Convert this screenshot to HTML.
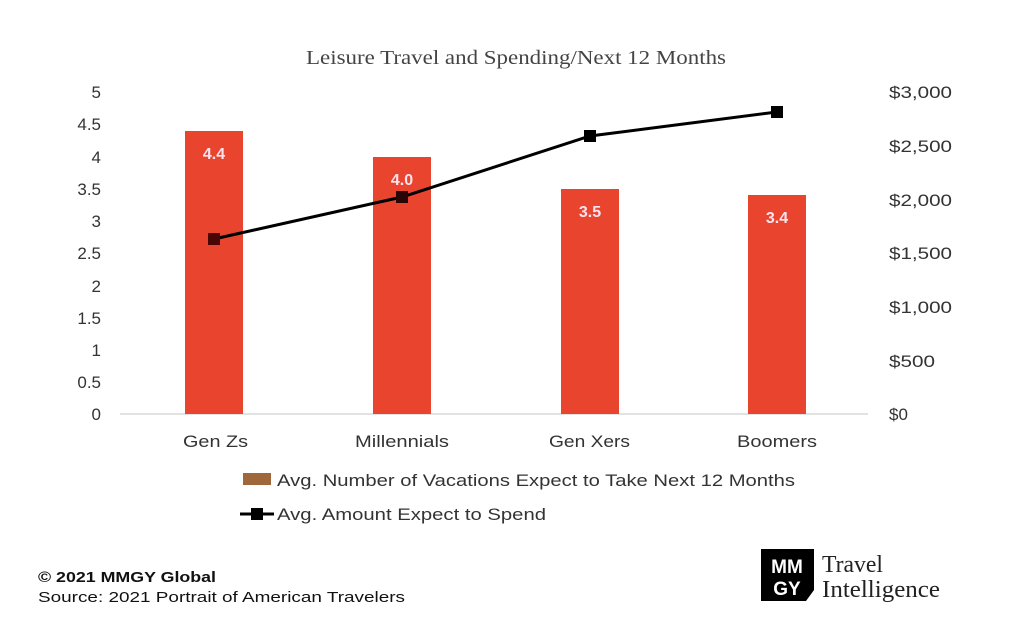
<!DOCTYPE html>
<html><head><style>
body{margin:0;background:#fff;}
svg text{font-family:"Liberation Sans",sans-serif;}
</style></head><body>
<svg width="1024" height="639" viewBox="0 0 1024 639" xmlns="http://www.w3.org/2000/svg">
<rect width="1024" height="639" fill="#fff"/>
<text x="306" y="64" textLength="420" lengthAdjust="spacingAndGlyphs" font-size="20" fill="#444" style="font-family:'Liberation Serif',serif">Leisure Travel and Spending/Next 12 Months</text>
<g font-size="17" fill="#333" text-anchor="end">
<text x="101" y="98">5</text><text x="101" y="130">4.5</text><text x="101" y="163">4</text><text x="101" y="195">3.5</text><text x="101" y="227">3</text><text x="101" y="259">2.5</text><text x="101" y="292">2</text><text x="101" y="324">1.5</text><text x="101" y="356">1</text><text x="101" y="388">0.5</text><text x="101" y="420">0</text>
</g>
<g font-size="17" fill="#333" text-anchor="start">
<text x="889" y="98" textLength="63" lengthAdjust="spacingAndGlyphs">$3,000</text><text x="889" y="152" textLength="63" lengthAdjust="spacingAndGlyphs">$2,500</text><text x="889" y="206" textLength="63" lengthAdjust="spacingAndGlyphs">$2,000</text><text x="889" y="259" textLength="63" lengthAdjust="spacingAndGlyphs">$1,500</text><text x="889" y="313" textLength="63" lengthAdjust="spacingAndGlyphs">$1,000</text><text x="889" y="367" textLength="46" lengthAdjust="spacingAndGlyphs">$500</text><text x="889" y="420">$0</text>
</g>
<line x1="120" y1="414" x2="868" y2="414" stroke="#d9d9d9" stroke-width="1.5"/>
<g fill="#e8442e">
<rect x="185" y="131" width="58" height="283"/>
<rect x="373" y="157" width="58" height="257"/>
<rect x="561" y="189" width="58" height="225"/>
<rect x="748" y="195" width="58" height="219"/>
</g>
<g font-size="16" font-weight="bold" fill="#fce4f0" text-anchor="middle">
<text x="214" y="159">4.4</text><text x="402" y="185">4.0</text><text x="590" y="217">3.5</text><text x="777" y="223">3.4</text>
</g>
<polyline points="214,239 402,197 590,136 777,112" fill="none" stroke="#000" stroke-width="3"/>
<g fill="#000">
<rect x="208" y="233" width="12" height="12" fill="#4a0505"/><rect x="396" y="191" width="12" height="12" fill="#2a0505"/><rect x="584" y="130" width="12" height="12"/><rect x="771" y="106" width="12" height="12"/>
</g>
<g font-size="17" fill="#333">
<text x="183" y="447" textLength="65" lengthAdjust="spacingAndGlyphs">Gen Zs</text><text x="355" y="447" textLength="94" lengthAdjust="spacingAndGlyphs">Millennials</text><text x="549" y="447" textLength="81" lengthAdjust="spacingAndGlyphs">Gen Xers</text><text x="737" y="447" textLength="80" lengthAdjust="spacingAndGlyphs">Boomers</text>
</g>
<rect x="243" y="473" width="28" height="12" fill="#a0673a"/>
<text x="277" y="486" font-size="17" fill="#333" textLength="518" lengthAdjust="spacingAndGlyphs">Avg. Number of Vacations Expect to Take Next 12 Months</text>
<line x1="240" y1="514" x2="274" y2="514" stroke="#000" stroke-width="3"/>
<rect x="251" y="508" width="12" height="12" fill="#000"/>
<text x="277" y="520" font-size="17" fill="#333" textLength="269" lengthAdjust="spacingAndGlyphs">Avg. Amount Expect to Spend</text>
<text x="38" y="582" font-size="15" font-weight="bold" fill="#111" textLength="178" lengthAdjust="spacingAndGlyphs">© 2021 MMGY Global</text>
<text x="38" y="602" font-size="15" fill="#111" textLength="367" lengthAdjust="spacingAndGlyphs">Source: 2021 Portrait of American Travelers</text>
<path d="M761 549 H814 V590 L806 601 H761 Z" fill="#000"/>
<text x="787" y="573" text-anchor="middle" font-size="19" font-weight="bold" fill="#fff">MM</text>
<text x="787" y="595" text-anchor="middle" font-size="19" font-weight="bold" fill="#fff">GY</text>
<text x="822" y="572" font-size="24" fill="#222" textLength="61" lengthAdjust="spacingAndGlyphs" style="font-family:'Liberation Serif',serif">Travel</text>
<text x="822" y="597" font-size="24" fill="#222" textLength="118" lengthAdjust="spacingAndGlyphs" style="font-family:'Liberation Serif',serif">Intelligence</text>
</svg>
</body></html>
